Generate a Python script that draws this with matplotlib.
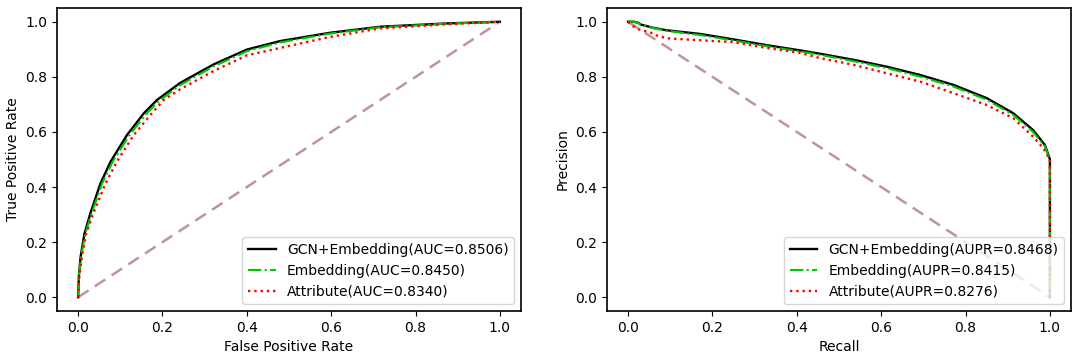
import matplotlib
matplotlib.use("Agg")
import matplotlib.pyplot as plt
import numpy as np

# ROC curves (FPR, TPR)
roc_gcn_fpr = [0.0, 0.002, 0.006, 0.015, 0.029, 0.053, 0.077, 0.116, 0.156, 0.187, 0.242, 0.321, 0.40, 0.479, 0.597, 0.716, 0.874, 1.0]
roc_gcn_tpr = [0.0, 0.08, 0.147, 0.23, 0.304, 0.413, 0.492, 0.589, 0.668, 0.716, 0.778, 0.845, 0.899, 0.930, 0.960, 0.982, 0.994, 1.0]

roc_emb_fpr = [0.0, 0.002, 0.007, 0.017, 0.032, 0.057, 0.082, 0.122, 0.163, 0.195, 0.242, 0.321, 0.40, 0.479, 0.597, 0.716, 0.874, 1.0]
roc_emb_tpr = [0.0, 0.08, 0.147, 0.23, 0.304, 0.413, 0.492, 0.589, 0.668, 0.716, 0.770, 0.838, 0.893, 0.925, 0.957, 0.980, 0.993, 1.0]

roc_att_fpr = [0.0, 0.003, 0.009, 0.019, 0.036, 0.065, 0.092, 0.132, 0.175, 0.203, 0.242, 0.321, 0.40, 0.479, 0.597, 0.716, 0.874, 1.0]
roc_att_tpr = [0.0, 0.08, 0.147, 0.23, 0.304, 0.413, 0.492, 0.589, 0.668, 0.716, 0.755, 0.821, 0.878, 0.905, 0.945, 0.976, 0.991, 1.0]

# PR curves (Recall, Precision)
pr_gcn_rec = [0.0, 0.015, 0.024, 0.03, 0.06, 0.092, 0.17, 0.25, 0.329, 0.408, 0.455, 0.534, 0.613, 0.692, 0.771, 0.85, 0.913, 0.96, 0.988, 0.998, 1.0, 1.0]
pr_gcn_pre = [1.0, 1.0, 0.996, 0.99, 0.978, 0.969, 0.956, 0.936, 0.915, 0.896, 0.884, 0.862, 0.837, 0.807, 0.771, 0.723, 0.668, 0.607, 0.553, 0.51, 0.50, 0.0]

pr_emb_rec = [0.0, 0.015, 0.024, 0.03, 0.06, 0.092, 0.17, 0.25, 0.329, 0.408, 0.455, 0.534, 0.613, 0.692, 0.771, 0.85, 0.913, 0.96, 0.988, 0.998, 1.0, 1.0]
pr_emb_pre = [1.0, 1.0, 0.995, 0.99, 0.977, 0.967, 0.952, 0.932, 0.911, 0.892, 0.880, 0.857, 0.832, 0.801, 0.765, 0.717, 0.662, 0.600, 0.548, 0.508, 0.50, 0.0]

pr_att_rec = [0.0, 0.01, 0.028, 0.052, 0.068, 0.092, 0.17, 0.25, 0.329, 0.408, 0.455, 0.534, 0.613, 0.692, 0.771, 0.85, 0.913, 0.96, 0.985, 0.998, 1.0, 1.0]
pr_att_pre = [1.0, 0.985, 0.971, 0.962, 0.950, 0.940, 0.933, 0.926, 0.905, 0.887, 0.868, 0.844, 0.813, 0.783, 0.741, 0.698, 0.650, 0.583, 0.54, 0.504, 0.50, 0.0]

roc_labels = ["GCN+Embedding(AUC=0.8506)", "Embedding(AUC=0.8450)", "Attribute(AUC=0.8340)"]
pr_labels = ["GCN+Embedding(AUPR=0.8468)", "Embedding(AUPR=0.8415)", "Attribute(AUPR=0.8276)"]
ticks = [0.0, 0.2, 0.4, 0.6, 0.8, 1.0]

diag_color = "#bc9595"
fs = 10

fig = plt.figure(figsize=(10.84, 3.58), dpi=100)
ax1 = fig.add_axes([57/1084, 47/358, 464/1084, 303/358])
ax2 = fig.add_axes([607/1084, 47/358, 464/1084, 303/358])

ax1.plot([0, 1], [0, 1], linestyle=(0, (5, 3)), color=diag_color, lw=1.8)
ax1.plot(roc_gcn_fpr, roc_gcn_tpr, color="black", lw=1.7, label=roc_labels[0])
ax1.plot(roc_emb_fpr, roc_emb_tpr, color="#00c800", lw=1.5, linestyle="-.", label=roc_labels[1])
ax1.plot(roc_att_fpr, roc_att_tpr, color="#ff0000", lw=1.7, linestyle=":", label=roc_labels[2])
ax1.set_xlabel("False Positive Rate", fontsize=fs)
ax1.set_ylabel("True Positive Rate", fontsize=fs)

ax2.plot([0, 1], [1, 0], linestyle=(0, (5, 3)), color=diag_color, lw=1.8)
ax2.plot(pr_gcn_rec, pr_gcn_pre, color="black", lw=1.7, label=pr_labels[0])
ax2.plot(pr_emb_rec, pr_emb_pre, color="#00c800", lw=1.5, linestyle="-.", label=pr_labels[1])
ax2.plot(pr_att_rec, pr_att_pre, color="#ff0000", lw=1.7, linestyle=":", label=pr_labels[2])
ax2.set_xlabel("Recall", fontsize=fs)
ax2.set_ylabel("Precision", fontsize=fs)

for ax in (ax1, ax2):
    ax.set_xlim(-0.05, 1.05)
    ax.set_ylim(-0.05, 1.05)
    ax.set_xticks(ticks)
    ax.set_yticks(ticks)
    ax.tick_params(labelsize=fs)
    for s in ax.spines.values():
        s.set_linewidth(1.2)
    ax.legend(loc="lower right", fontsize=fs)

fig.savefig("out.png", dpi=100)
